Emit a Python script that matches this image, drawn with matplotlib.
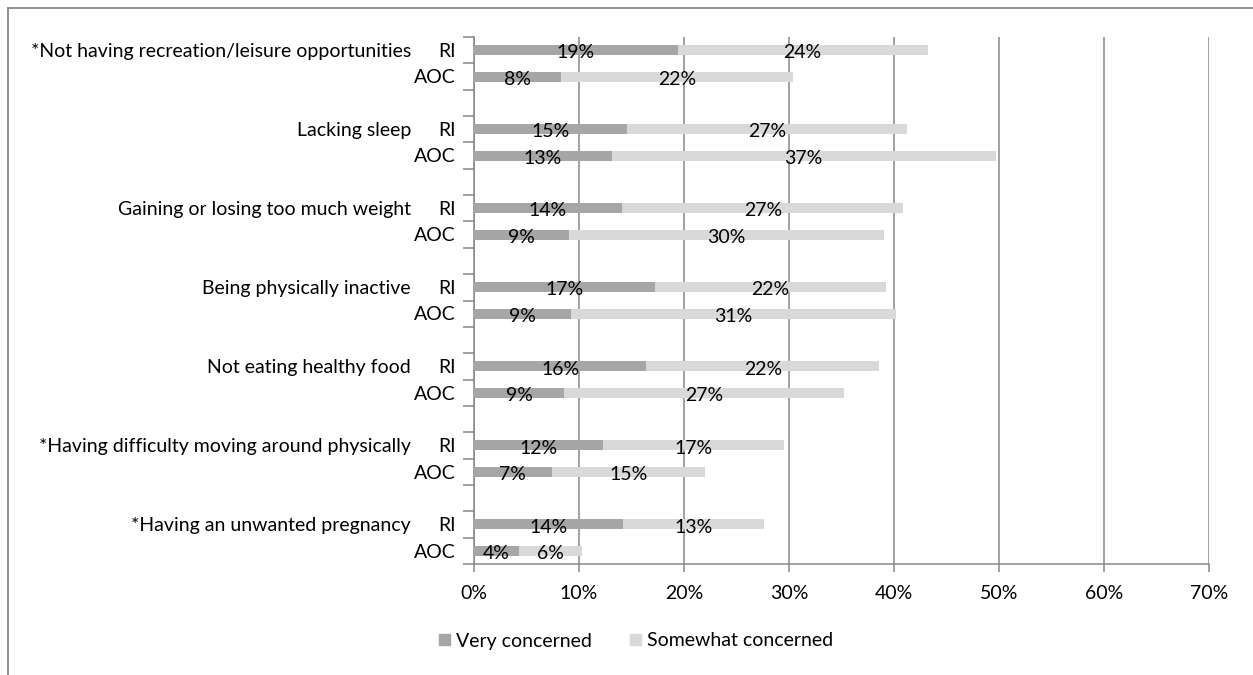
import numpy as np
import matplotlib.pyplot as plt
from matplotlib.lines import Line2D
from matplotlib.patches import Patch
import matplotlib.transforms as mtrans

plt.rcParams['font.family'] = ['Lato', 'DejaVu Sans']

categories = ['*Not having recreation/leisure opportunities', 'Lacking sleep',
              'Gaining or losing too much weight', 'Being physically inactive',
              'Not eating healthy food', '*Having difficulty moving around physically',
              '*Having an unwanted pregnancy']
groups = ['RI', 'AOC']

# percent values, RI first then AOC for each category
very_ri = [19.4, 14.6, 14.1, 17.2, 16.4, 12.3, 14.2]
very_aoc = [8.3, 13.1, 9.0, 9.2, 8.6, 7.4, 4.3]
some_ri = [23.8, 26.6, 26.8, 22.0, 22.2, 17.2, 13.4]
some_aoc = [22.1, 36.6, 30.0, 31.0, 26.6, 14.6, 6.0]

c_very = '#a6a6a6'
c_some = '#d9d9d9'
grid_c = '#878787'
fs = 14

fig = plt.figure(figsize=(12.53, 6.75), dpi=100)
ax = fig.add_axes([474/1253, 1-564/675, (1209-474)/1253, (564-37)/675])

# outer border (chart area, cropped)
fig.add_artist(Line2D([8/1253, 1], [1-8/675, 1-8/675], color=grid_c, lw=1.3))
fig.add_artist(Line2D([8/1253, 8/1253], [0, 1-8/675], color=grid_c, lw=1.3))

for i in range(len(categories)):
    for j, (v, s) in enumerate([(very_ri[i], some_ri[i]), (very_aoc[i], some_aoc[i])]):
        y = 3*i + j + 0.5
        ax.barh(y, v, height=0.38, color=c_very, zorder=3)
        ax.barh(y, s, left=v, height=0.38, color=c_some, zorder=3)
        ax.text(v/2, y+0.1, f'{round(v)}%', ha='center', va='center', fontsize=fs, zorder=4)
        ax.text(v + s/2, y+0.1, f'{round(s)}%', ha='center', va='center', fontsize=fs, zorder=4)

ax.set_xlim(0, 70)
ax.set_ylim(20, 0)
ax.set_xticks(np.arange(0, 71, 10))
ax.set_xticklabels([f'{t}%' for t in range(0, 71, 10)], fontsize=fs)
ax.xaxis.grid(True, color=grid_c, lw=1.1, zorder=1)
ax.tick_params(axis='x', length=6, color=grid_c, width=1.1, pad=9)

ax.set_yticks(np.arange(0, 21, 1))
ax.set_yticklabels([])
ax.tick_params(axis='y', length=8, color=grid_c, width=1.1)

for sp in ['top', 'right']:
    ax.spines[sp].set_visible(False)
for sp in ['left', 'bottom']:
    ax.spines[sp].set_color(grid_c)
    ax.spines[sp].set_linewidth(1.1)

trans = mtrans.blended_transform_factory(fig.transFigure, ax.transData)
for i, cat in enumerate(categories):
    ax.text(411/1253, 3*i + 0.5 + 0.05, cat, transform=trans, ha='right', va='center', fontsize=fs)
    for j, g in enumerate(groups):
        ax.text(456/1253, 3*i + j + 0.5 + 0.05, g, transform=trans, ha='right', va='center', fontsize=fs)

handles = [Patch(color=c_very, label='Very concerned'), Patch(color=c_some, label='Somewhat concerned')]
fig.legend(handles=handles, loc='center', bbox_to_anchor=(636/1253, 1-641/675), ncol=2,
           frameon=False, fontsize=fs, handlelength=0.55, handleheight=0.55,
           handletextpad=0.3, columnspacing=2.0)

fig.savefig('out.png', dpi=100)
